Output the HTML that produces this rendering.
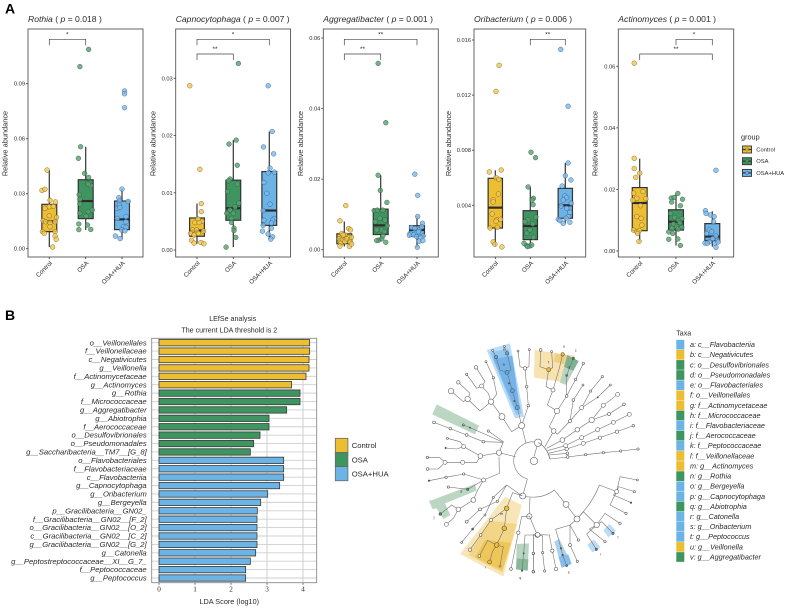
<!DOCTYPE html>
<html lang="en">
<head>
<meta charset="utf-8">
<title>Relative abundance and LEfSe analysis</title>
<style>
html,body{margin:0;padding:0;background:#fff}
svg{display:block;filter:blur(.35px)}
text{font-family:"Liberation Sans",sans-serif;fill:#2a2a2a}
</style>
</head>
<body>
<svg id="figure" xmlns="http://www.w3.org/2000/svg" width="787" height="609" viewBox="0 0 787 609">
<rect width="787" height="609" fill="#fff"/>
<text x="5" y="13.5" font-size="14" font-weight="bold" style="fill:#000">A</text>
<text x="5" y="320" font-size="14" font-weight="bold" style="fill:#000">B</text>
<g id="boxplots"></g>
<g id="group-legend"></g>
<g id="lefse"></g>
<g id="lefse-legend"></g>
<g id="clade" transform="translate(410 325) scale(.33333)"></g>
<g id="taxa"></g>
</svg>
<script>
// Panel A values (relative abundance) and horizontal jitter (fraction of category step)
const rothiaControl=[.0429,.0318,.0324,.0264,.0255,.022,.0229,.0231,.018,.0171,.0153,.0147,.0142,.0147,.012,.0093,.0084,.0093,.0069,.0051,.0009];
const rothiaControlJitter=[-.06,-.2,-.12,.02,.17,-.12,0,.11,0,.2,-.17,-.1,.02,.16,.02,-.19,-.14,.16,.16,.19,.09];
const rothiaControlBox=[.0009,.0093,.0149,.0242,.0429];
const rothiaOsa=[.1087,.0993,.0556,.0493,.0411,.0389,.0295,.0356,.0344,.0351,.0269,.0244,.0211,.0202,.0193,.0178,.0135,.0129,.0104,.0105];
const rothiaOsaJitter=[.08,-.16,-.14,-.2,-.03,.08,-.18,.05,.14,.07,-.16,-.16,.18,.07,-.16,.01,-.19,.05,-.19,.14];
const rothiaOsaBox=[.0102,.0164,.026,.0376,.0556];
const rothiaHua=[.086,.0845,.0769,.0325,.0278,.026,.0258,.0238,.022,.0225,.0175,.0165,.0147,.012,.0116,.0102,.0069,.0055,.0098];
const rothiaHuaJitter=[.07,.07,.07,0,-.09,-.07,.17,-.07,-.13,-.06,.11,-.13,.11,.04,.11,-.01,-.18,-.05,.08];
const rothiaHuaBox=[.0055,.0104,.016,.026,.0325];
const rothiaTicks=[0,.03,.06,.09];

const capnoControl=[.0287,.0141,.0081,.0067,.0054,.005,.0048,.0048,.0035,.0035,.0033,.0029,.0026,.0029,.0017,.0012,.0013,.0011];
const capnoControlJitter=[-.2,.08,.12,.12,.03,.14,-.06,.06,-.12,-.01,.18,-.18,-.08,.04,-.15,-.08,.11,.19];
const capnoControlBox=[.0011,.0024,.0034,.0056,.0081];
const capnoOsa=[.0326,.0192,.0185,.0148,.0124,.0121,.0115,.0102,.0082,.0075,.007,.0064,.0064,.0055,.0048,.0038,.0034,.0022,.0005];
const capnoOsaJitter=[.14,.08,-.12,.11,-.09,-.13,.11,-.16,.15,.05,-.09,-.18,0,-.05,-.05,.02,.02,.07,-.2];
const capnoOsaBox=[.0005,.0052,.0073,.0122,.0192];
const capnoHua=[.0287,.0207,.018,.0168,.0143,.0135,.0136,.0118,.0099,.008,.0069,.0055,.0052,.0052,.0047,.0043,.0038,.0033,.0028,.0023,.0019];
const capnoHuaJitter=[-.03,.08,-.16,.12,.02,-.03,.14,-.15,-.07,.02,-.17,.13,-.15,.09,.06,-.17,.06,-.19,-.03,.09,.04];
const capnoHuaBox=[.0019,.0043,.0069,.0137,.0207];
const capnoTicks=[0,.01,.02,.03];

const aggreControl=[.0125,.0082,.006,.0056,.0046,.0042,.0035,.0031,.0029,.0027,.0035,.0018,.0023,.0021,.001,.0009,.0016,.0042,.0031];
const aggreControlJitter=[.04,-.12,.12,.17,-.07,.02,.11,-.14,-.05,.16,.2,-.1,.02,.16,-.12,.14,.2,-.03,.06];
const aggreControlBox=[.0009,.0017,.0031,.0045,.008];
const aggreOsa=[.0528,.036,.0211,.0168,.0134,.0111,.0112,.0112,.0089,.0084,.0079,.0056,.0056,.0068,.0051,.0027,.0031,.0021,.0026,.0039];
const aggreOsaJitter=[-.07,.14,-.07,-.01,.17,-.18,-.09,.06,-.02,.12,-.15,-.11,.03,.18,.1,-.06,.03,.14,-.11,.06];
const aggreOsaBox=[.0023,.0043,.0069,.0115,.0211];
const aggreHua=[.0214,.0154,.0094,.0075,.0065,.0063,.006,.0056,.0046,.0042,.0051,.0039,.0041,.0037,.0035,.0024,.0026,.0007];
const aggreHuaJitter=[-.06,.02,.02,.15,.13,-.15,-.06,.06,-.19,-.1,.04,.17,-.21,-.01,.1,.06,.16,.01];
const aggreHuaBox=[.0007,.0038,.0056,.0068,.0094];
const aggreTicks=[0,.02,.04,.06];

const oriControl=[.01416,.01227,.00642,.00656,.00601,.00589,.00482,.00439,.00424,.00337,.00294,.00298,.00284,.00235,.0024,.00134,.00117,.00098];
const oriControlJitter=[.11,.02,-.17,.17,.02,.1,.09,-.06,-.06,-.09,.04,.15,.02,-.15,.06,-.06,-.01,.19];
const oriControlBox=[.00105,.00235,.00383,.00596,.00654];
const oriOsa=[.00785,.00746,.00533,.00451,.00439,.00405,.00315,.00294,.00281,.00265,.00221,.00197,.00168,.00124,.00107,.00105,.00112,.001];
const oriOsaJitter=[.02,.15,-.06,.09,.05,.08,.16,-.07,-.15,.07,-.01,-.1,.09,-.18,-.1,-.01,.04,-.08];
const oriOsaBox=[.00095,.00151,.0025,.00361,.00533];
const oriHua=[.01532,.01119,.00707,.00615,.00584,.0054,.00468,.00456,.00439,.00415,.00395,.00378,.00349,.00318,.00298,.00289,.00306,.00269,.00277];
const oriHuaJitter=[-.13,.08,.08,0,.16,-.09,-.01,.04,-.06,.17,-.12,.04,.13,.09,-.2,-.15,.02,-.06,.13];
const oriHuaBox=[.00269,.00306,.004,.00523,.00707];
const oriTicks=[.004,.008,.012,.016];

const actinoControl=[.061,.0301,.0268,.0253,.0239,.0193,.0188,.0171,.0165,.017,.0147,.0112,.0106,.0084,.0068,.0063,.0066,.0031,.0057];
const actinoControlJitter=[-.15,-.15,-.15,0,-.11,.09,-.17,-.08,-.19,.17,.02,-.08,.04,.06,-.17,-.08,-.01,-.02,-.06];
const actinoControlBox=[.003,.0066,.0156,.0206,.03];
const actinoOsa=[.0187,.0172,.0174,.0168,.0159,.0147,.0122,.0109,.0105,.0099,.0088,.0092,.0079,.0077,.0074,.0071,.0062,.0057,.0039,.0038,.0018];
const actinoOsaJitter=[.05,-.13,-.05,.18,-.12,.12,-.15,-.04,.16,.07,-.07,.11,.02,.16,-.11,.06,-.2,-.09,.05,-.2,.12];
const actinoOsaBox=[.0018,.0068,.0095,.0134,.0187];
const actinoHua=[.0262,.0131,.0122,.0117,.0112,.0095,.0068,.0063,.0057,.0049,.004,.0034,.003,.0026,.0025,.0025,.0029,.0012];
const actinoHuaJitter=[.1,-.19,-.17,-.05,.05,.03,-.08,-.02,-.16,.1,.01,.14,-.08,-.2,-.14,.07,.16,.1];
const actinoHuaBox=[.0014,.0034,.0047,.0089,.0129];
const actinoTicks=[0,.02,.04,.06];

const groupNames=["Control","OSA","OSA+HUA"];
const groupColors={"Control":"#EDBE32","OSA":"#3F9560","OSA+HUA":"#6CB3E6"};
const pointFill={"Control":"rgba(240,200,85,.82)","OSA":"rgba(90,160,115,.82)","OSA+HUA":"rgba(125,185,235,.82)"};
const pointEdge={"Control":"rgba(110,85,20,.8)","OSA":"rgba(40,85,55,.8)","OSA+HUA":"rgba(45,85,125,.8)"};

// Panel B values
const lefseLabels=["o__Veillonellales","f__Veillonellaceae","c__Negativicutes","g__Veillonella","f__Actinomycetaceae","g__Actinomyces","g__Rothia","f__Micrococcaceae","g__Aggregatibacter","g__Abiotrophia","f__Aerococcaceae","o__Desulfovibrionales","o__Pseudomonadales","g__Saccharibacteria__TM7__[G_8]","o__Flavobacteriales","f__Flavobacteriaceae","c__Flavobacteriia","g__Capnocytophaga","g__Oribacterium","g__Bergeyella","p__Gracilibacteria__GN02_","f__Gracilibacteria__GN02__[F_2]","o__Gracilibacteria__GN02__[O_2]","c__Gracilibacteria__GN02__[C_2]","g__Gracilibacteria__GN02__[G_2]","g__Catonella","g__Peptostreptococcaceae__XI__G_7_","f__Peptococcaceae","g__Peptococcus"];
const lefseScores=[4.185,4.185,4.167,4.167,4.083,3.685,3.917,3.917,3.546,3.056,3.056,2.806,2.63,2.537,3.463,3.463,3.463,3.352,3.019,2.824,2.731,2.722,2.722,2.722,2.722,2.685,2.537,2.407,2.407];
const lefseGroups=["Control","Control","Control","Control","Control","Control","OSA","OSA","OSA","OSA","OSA","OSA","OSA","OSA","OSA+HUA","OSA+HUA","OSA+HUA","OSA+HUA","OSA+HUA","OSA+HUA","OSA+HUA","OSA+HUA","OSA+HUA","OSA+HUA","OSA+HUA","OSA+HUA","OSA+HUA","OSA+HUA","OSA+HUA"];
const lefseTicks=[0,1,2,3,4];
const taxaLabels=["a: c__Flavobacteriia","b: c__Negativicutes","c: o__Desulfovibrionales","d: o__Pseudomonadales","e: o__Flavobacteriales","f: o__Veillonellales","g: f__Actinomycetaceae","h: f__Micrococcaceae","i: f__Flavobacteriaceae","j: f__Aerococcaceae","k: f__Peptococcaceae","l: f__Veillonellaceae","m: g__Actinomyces","n: g__Rothia","o: g__Bergeyella","p: g__Capnocytophaga","q: g__Abiotrophia","r: g__Catonella","s: g__Oribacterium","t: g__Peptococcus","u: g__Veillonella","v: g__Aggregatibacter"];
const taxaGroups=["OSA+HUA","Control","OSA","OSA","OSA+HUA","Control","Control","OSA","OSA+HUA","OSA","OSA+HUA","Control","Control","OSA","OSA+HUA","OSA+HUA","OSA","OSA+HUA","OSA+HUA","OSA+HUA","Control","OSA"];

const NS="http://www.w3.org/2000/svg";
function make(parent,tag,attrs,text){
  const e=document.createElementNS(NS,tag);
  for(const k in attrs)e.setAttribute(k,attrs[k]);
  if(text!==undefined)e.textContent=text;
  parent.appendChild(e);
  return e;
}

const panels=[
 {id:"rothia",taxon:"Rothia",p:"0.018",left:28,right:143,xs:[49.3,85.7,122],y0:248.7,yTop:83.7,vTop:.09,v0:0,yTitle:5.5,decimals:2,ticks:rothiaTicks,
  series:[[rothiaControl,rothiaControlJitter,rothiaControlBox],[rothiaOsa,rothiaOsaJitter,rothiaOsaBox],[rothiaHua,rothiaHuaJitter,rothiaHuaBox]],
  brackets:[[0,1,39.3,"*",67.3]]},
 {id:"capnocytophaga",taxon:"Capnocytophaga",p:"0.007",left:175.7,right:290.5,xs:[197,233.3,269.3],y0:250,yTop:78.3,vTop:.03,v0:0,yTitle:153.5,decimals:2,ticks:capnoTicks,
  series:[[capnoControl,capnoControlJitter,capnoControlBox],[capnoOsa,capnoOsaJitter,capnoOsaBox],[capnoHua,capnoHuaJitter,capnoHuaBox]],
  brackets:[[0,2,39.3,"*",233],[0,1,54,"**",215]]},
 {id:"aggregatibacter",taxon:"Aggregatibacter",p:"0.001",left:323.3,right:438.3,xs:[344.3,380.7,417],y0:249.7,yTop:38,vTop:.06,v0:0,yTitle:301,decimals:2,ticks:aggreTicks,
  series:[[aggreControl,aggreControlJitter,aggreControlBox],[aggreOsa,aggreOsaJitter,aggreOsaBox],[aggreHua,aggreHuaJitter,aggreHuaBox]],
  brackets:[[0,2,39.3,"**",380.7],[0,1,54,"**",362.5]]},
 {id:"oribacterium",taxon:"Oribacterium",p:"0.006",left:474,right:585.7,xs:[495.3,530.3,565.3],y0:205.3,yTop:40,vTop:.016,v0:.004,yTitle:449,decimals:3,ticks:oriTicks,
  series:[[oriControl,oriControlJitter,oriControlBox],[oriOsa,oriOsaJitter,oriOsaBox],[oriHua,oriHuaJitter,oriHuaBox]],
  brackets:[[1,2,39.3,"**",547.7]]},
 {id:"actinomyces",taxon:"Actinomyces",p:"0.001",left:618.3,right:733.7,xs:[639.7,676,712.3],y0:251,yTop:66.3,vTop:.06,v0:0,yTitle:595.7,decimals:2,ticks:actinoTicks,
  series:[[actinoControl,actinoControlJitter,actinoControlBox],[actinoOsa,actinoOsaJitter,actinoOsaBox],[actinoHua,actinoHuaJitter,actinoHuaBox]],
  brackets:[[1,2,39.3,"*",694],[0,2,54,"**",676]]}
];
const frameTop=29,frameBottom=257;

function drawPanel(P){
  const root=document.getElementById("boxplots");
  const g=make(root,"g",{});
  
  
  const yScale=v=>P.y0+(v-P.v0)*(P.yTop-P.y0)/(P.vTop-P.v0);
  const step=(P.xs[2]-P.xs[0])/2;
  const halfBox=step*.205;

  const title=make(g,"text",{x:P.left,y:21.8,"font-size":8.6});
  
  
  make(title,"tspan",{"font-style":"italic"},P.taxon);
  make(title,"tspan",{}," ( ");
  make(title,"tspan",{"font-style":"italic"},"p");
  make(title,"tspan",{}," = "+P.p+" )");

  const yTitle=make(g,"text",{transform:"translate("+P.yTitle+" 143.5) rotate(-90)","text-anchor":"middle","dominant-baseline":"middle","font-size":7.4},"Relative abundance");
  
  

  P.ticks.forEach(t=>{
    const y=yScale(t);
    const tick=make(g,"line",{x1:P.left-2,x2:P.left,y1:y,y2:y,stroke:"#333","stroke-width":.8});
    
    
    const lab=make(g,"text",{x:P.left-3,y:y+2,"text-anchor":"end","font-size":5.7},t.toFixed(P.decimals));
    
    
  });

  P.series.forEach((s,i)=>{
    const name=groupNames[i],cx=P.xs[i],box=s[2];
    const whisker=make(g,"line",{x1:cx,x2:cx,y1:yScale(box[0]),y2:yScale(box[4]),stroke:"#333","stroke-width":1.2});
    
    
    const rect=make(g,"rect",{x:cx-halfBox,width:2*halfBox,y:yScale(box[3]),height:yScale(box[1])-yScale(box[3]),fill:groupColors[name],stroke:"#333","stroke-width":1.2});
    
    
    const med=make(g,"line",{x1:cx-halfBox,x2:cx+halfBox,y1:yScale(box[2]),y2:yScale(box[2]),stroke:"#2c2c2c","stroke-width":2.2});
    
    
    s[0].forEach((v,k)=>{
      const c=make(g,"circle",{cx:cx+s[1][k]*step,cy:yScale(v),r:2.4,fill:pointFill[name],stroke:pointEdge[name],"stroke-width":.5});
      
      
    });
  });

  const frame=make(g,"rect",{x:P.left,y:frameTop,width:P.right-P.left,height:frameBottom-frameTop,fill:"none",stroke:"#555","stroke-width":.9});
  
  

  P.xs.forEach((x,i)=>{
    const t=make(g,"line",{x1:x,x2:x,y1:frameBottom,y2:frameBottom+2,stroke:"#333","stroke-width":.8});
    
    
    const l=make(g,"text",{transform:"translate("+(x+3.2)+" "+(frameBottom+6.5)+") rotate(-45)","text-anchor":"end","font-size":6.2},groupNames[i]);
    
    
  });

  P.brackets.forEach(b=>{
    const x1=P.xs[b[0]],x2=P.xs[b[1]],y=b[2];
    const br=make(g,"path",{d:"M"+x1+" "+(y+6)+"V"+y+"H"+x2+"V"+(y+6),fill:"none",stroke:"#444","stroke-width":.7});
    
    
    const st=make(g,"text",{x:b[4],y:y-3,"text-anchor":"middle","font-size":6.5},b[3]);
    
    
  });
}
panels.forEach(drawPanel);

// Panel A legend
(function(){
  const g=document.getElementById("group-legend");
  const t=make(g,"text",{x:741,y:139.5,"font-size":7.3},"group");
  
  
  groupNames.forEach((n,i)=>{
    const y=149.5+i*11.7;
    const key=make(g,"rect",{x:742.5,y:y-3.5,width:9,height:7,fill:groupColors[n],stroke:"#333","stroke-width":.9});
    
    
    const mid=make(g,"line",{x1:742.5,x2:751.5,y1:y,y2:y,stroke:"#333","stroke-width":1.2});
    
    
    const dot=make(g,"circle",{cx:747,cy:y,r:1.6,fill:pointFill[n],stroke:pointEdge[n],"stroke-width":.5});
    
    
    const lab=make(g,"text",{x:756.3,y:y+2,"font-size":5.8},n);
    
    
  });
})();

// Panel B bar chart
(function(){
  const g=document.getElementById("lefse");
  const xScale=v=>159+v*36;
  const rowY=i=>342.7+i*8.404;
  const fl=151.7,fr=316.7,ft=338.3,fb=582.7;
  const t1=make(g,"text",{x:232.7,y:321,"text-anchor":"middle","font-size":7.1},"LEfSe analysis");
  
  
  const t2=make(g,"text",{x:229.3,y:332.7,"text-anchor":"middle","font-size":7.1},"The current LDA threshold is 2");
  
  
  lefseTicks.forEach(v=>{
    const gl=make(g,"line",{x1:xScale(v),x2:xScale(v),y1:ft,y2:fb,stroke:"#c4c4c4","stroke-width":.8});
    
    
    const tk=make(g,"line",{x1:xScale(v),x2:xScale(v),y1:fb,y2:fb+2,stroke:"#333","stroke-width":.7});
    
    
    const lb=make(g,"text",{x:xScale(v),y:fb+9,"text-anchor":"middle","font-size":7.2,style:"font-family:'Liberation Serif',serif"},String(v));
    
    
  });
  lefseLabels.forEach((label,i)=>{
    const y=rowY(i);
    const gl=make(g,"line",{x1:fl,x2:fr,y1:y,y2:y,stroke:"#cfcfcf","stroke-width":.9});
    
    
    const bar=make(g,"rect",{x:xScale(0),y:y-3.2,width:xScale(lefseScores[i])-xScale(0),height:6.4,fill:groupColors[lefseGroups[i]],stroke:"#3a3a3a","stroke-width":.8});
    
    
    const lab=make(g,"text",{x:146.7,y:y+2.6,"text-anchor":"end","font-size":7.65,"font-style":"italic"},label);
    
    
  });
  const fr2=make(g,"rect",{x:fl,y:ft,width:fr-fl,height:fb-ft,fill:"none",stroke:"#8a8a8a","stroke-width":.9});
  
  
  const xt=make(g,"text",{x:229.3,y:604,"text-anchor":"middle","font-size":7.3},"LDA Score (log10)");
  
  

  const lg=document.getElementById("lefse-legend");
  groupNames.forEach((n,i)=>{
    const y=438.3+i*14.15;
    const r=make(lg,"rect",{x:335.3,y:y,width:12.6,height:14.15,fill:groupColors[n],stroke:"#6a6a6a","stroke-width":.8});
    
    
    const l=make(lg,"text",{x:351.7,y:y+9.8,"font-size":7.7},n);
    
    
  });

  const tg=document.getElementById("taxa");
  const hd=make(tg,"text",{x:676.3,y:335.5,"font-size":7},"Taxa");
  
  
  taxaLabels.forEach((l,i)=>{
    const y=344.7+i*10.11;
    const r=make(tg,"rect",{x:676.3,y:y-4.85,width:8,height:9.7,fill:groupColors[taxaGroups[i]]});
    
    
    const t=make(tg,"text",{x:690,y:y+2.4,"font-size":7.25,"font-style":"italic"},l);
    
    
  });
})();

// Cladogram: hand-traced tree geometry, grouped by quadrant
const cladeQuadrants=[
 {offset:[0,0],
  wedges:[],
  edges:["M372 395L384 353","M384 353A56 56 0 1 0 352 462","M352 462L338 513","M267 383L316 395","M267 383L211 393","M211 393L161 365","M161 365L150 350L112 340","M161 365L140 372L107 369","M211 393L200 412L158 412L105 412","M105 412L90 398L52 397","M105 412L85 432L53 432","M267 395L268 445L221 465","M338 513Q395 525 433 495L468 538","M468 538L501 582","M360 517L358 574","M501 582Q550 530 568 480L620 500","M384 353Q410 365 420 402"],
  nodes:[[372,408,11,"o"],[384,353,11,"o"],[211,393,7,"o"],[161,365,6,"o"],[112,340,3,"o"],[107,369,2.2,"d"],[158,412,6,"o"],[105,412,6,"o"],[52,397,3.5,"o"],[53,432,4,"o"],[338,513,9,"o"],[358,574,8,"o"]]},
 {offset:[45,30],
  wedges:[["M35 208L162 272L150 298L22 238Z","#bcd6c4"],["M185 45L255 25L297 245L270 250Z","#bcdcf5"],["M195 52L250 42L290 235L273 240Z","#94c6ee"],["M205 72L262 62L284 220L272 226Z","#73b3e8"]],
  edges:["M290 272L303 325","M290 272L260 290L231 245","M290 272L277 218L262 167L246 112","M246 112L225 105L213 66L203 46","M246 112L258 105L246 55L238 34","M290 272L310 212L305 155L300 100","M300 100L285 95L279 48","M300 100L312 95L313 44","M231 245L198 200","M198 200L165 228L128 192","M128 192L115 200L78 168","M128 192L135 175L100 142","M198 200L190 175L170 153","M170 153L155 160L125 118","M170 153L180 140L153 97","M198 200L215 178L205 128L183 80","M222 353L235 320L190 288","M235 322L175 320L125 300L76 281L27 262","M235 322L135 278L115 270"],
  nodes:[[231,245,9,"o"],[198,200,8,"o"],[128,192,8,"o"],[78,168,8,"o"],[290,272,9,"o"],[222,353,8,"o"],[100,142,5,"o"],[170,153,6,"o"],[125,118,3.5,"o"],[153,97,5,"o"],[205,128,3.5,"o"],[183,80,3,"o"],[190,288,3.5,"o"],[135,278,2,"d"],[115,270,3,"o"],[175,320,4,"o"],[125,300,4,"o"],[76,281,4,"o"],[27,262,4,"o"],[310,212,4,"o"],[305,155,4,"o"],[300,100,5,"o"],[279,48,3,"o"],[313,44,3,"o"],[277,218,6,"b"],[262,167,6,"b"],[246,112,6,"b"],[213,66,5,"b"],[246,55,5,"b"],[203,46,3,"o"],[238,34,3,"o"],[252,145,2,"d"],[268,198,2,"d"]]},
 {offset:[360,30],
  wedges:[["M14 45L135 62L100 142L12 128Z","#f7e3b0"],["M75 55L112 62L102 88L72 80Z","#efcf7e"],["M112 60L146 78L130 108L102 96Z","#7eb192"],["M102 96L130 108L108 150L90 143Z","#b7d5c2"]],
  edges:["M24 323Q50 335 60 372","M45 335L71 288","M71 288L58 275L81 228","M81 228L52 210L69 165","M69 165L48 155L56 104","M56 104L30 95L32 45","M56 104L68 98L65 50","M69 165L88 100L98 58","M81 228L110 183L110 121L130 70","M110 183L137 133L160 85","M71 288L82 298L120 258L155 218L182 168L217 125","M155 218L203 187L241 150","M120 258L130 195L159 150","M50 340L97 315L142 284L185 255L220 211L263 178","M185 255L237 237L282 208","M52 347L107 332L155 308L203 284L250 262L298 238","M55 355L110 342L160 325L210 308L261 290L310 272","M60 372L113 366L167 359L220 353L272 348L324 342","M57 360L112 355"],
  nodes:[[71,288,7,"o"],[81,228,8,"o"],[69,165,6,"o"],[56,104,6,"y"],[32,45,4,"o"],[65,50,3,"o"],[98,58,5,"y"],[110,183,4,"o"],[110,121,3,"g"],[130,70,3.5,"g"],[137,133,3.5,"o"],[160,85,3.5,"o"],[120,258,4.5,"o"],[155,218,6,"o"],[182,168,3.5,"o"],[217,125,3.5,"o"],[203,187,2,"d"],[241,150,3,"o"],[130,195,4,"o"],[159,150,3,"o"],[97,315,7,"o"],[142,284,7,"o"],[185,255,8,"o"],[220,211,6,"o"],[263,178,6,"o"],[237,237,4.5,"o"],[282,208,4,"o"],[107,332,6,"o"],[155,308,6,"o"],[203,284,6,"o"],[250,262,6,"o"],[298,238,6,"o"],[110,342,5,"o"],[160,325,6,"o"],[210,308,5,"o"],[261,290,5,"o"],[310,272,4,"o"],[113,366,4,"o"],[167,359,3.5,"o"],[220,353,3.5,"o"],[272,348,3.5,"o"],[324,342,3.5,"o"],[112,355,4,"o"]]},
 {offset:[45,405],
  wedges:[["M22 120L150 72L155 92L60 130L76 165L55 177L35 145L22 147L12 122Z","#bcd6c4"],["M240 110L290 135L235 350L105 282Z","#f9e6b8"],["M195 182L276 192L232 338L130 285Z","#f3d588"],["M180 240L258 248L232 332L150 292Z","#efc758"],["M275 252L312 250L308 332L273 328Z","#b7d5c2"],["M276 295L310 298L308 332L273 328Z","#88b79a"]],
  edges:["M176 60L116 42L63 52L12 62","M176 60L128 88L70 81","M176 60L158 90L145 120","M145 120L100 148","M100 148L80 135L46 162","M100 148L85 175L64 193","M292 108L245 75L217 124L165 148L125 185","M245 75L205 112L180 165L143 207L110 247","M292 108L263 98L245 145","M245 145L238 205L215 255","M245 145L198 180L167 225L135 269","M215 255L188 241L163 288","M215 255L202 275L194 306","M215 255L235 260L225 318","M313 168L290 170L280 218L258 327","M313 168L337 225","M337 225L300 225L296 280L291 332","M337 225L325 225L325 280L325 335"],
  nodes:[[176,60,6,"o"],[116,42,3.5,"o"],[63,52,3.5,"o"],[12,62,2.5,"d"],[128,88,3.5,"g"],[70,81,3.5,"o"],[145,120,7,"o"],[100,148,7,"o"],[46,162,4,"g"],[64,193,6,"o"],[217,124,3.5,"o"],[165,148,4.5,"o"],[125,185,4.5,"o"],[205,112,3,"o"],[180,165,3,"o"],[143,207,3,"d"],[110,247,3,"o"],[245,145,7,"y"],[238,205,7,"y"],[215,255,7,"y"],[198,180,5,"o"],[167,225,4,"o"],[135,269,5,"o"],[163,288,4,"o"],[194,306,6,"y"],[225,318,3,"o"],[258,327,4,"o"],[280,218,5,"o"],[337,225,7,"o"],[296,280,2,"d"],[291,332,2.5,"d"],[325,280,3.5,"o"],[325,335,4,"o"]]},
 {offset:[360,405],
  wedges:[["M73 245L88 237L125 312L95 323Z","#a9d1f0"],["M85 290L115 283L125 312L95 323Z","#86bdea"],["M172 255L192 238L212 263L187 277Z","#bcdcf5"],["M220 210L238 192L258 212L235 232Z","#bcdcf5"]],
  edges:["M23 224L38 228L38 280L44 333","M23 224L58 225L67 272L78 327","M23 224L10 224L10 280L10 335","M141 177L120 195L77 208L93 265L98 285L110 317","M120 195L120 255L142 304","M120 195L145 240","M141 177L160 155L200 195","M200 195L170 222L199 268","M200 195L178 207L225 245","M200 195L225 160L270 190","M200 195L215 185L249 220","M260 95L270 50L322 60","M260 95L266 80L313 95","M260 95L240 135L288 160","M260 95L250 105L303 128"],
  nodes:[[23,224,7,"o"],[38,278,3.5,"o"],[44,333,3.5,"o"],[67,272,5,"o"],[78,327,5,"o"],[10,280,3.5,"o"],[10,335,3.5,"o"],[141,177,9,"o"],[108,133,9,"o"],[93,265,2.5,"d"],[98,285,2.5,"d"],[110,317,3,"x"],[120,255,4.5,"o"],[142,304,3.5,"o"],[145,240,3.5,"o"],[200,195,8,"o"],[199,268,3.5,"x"],[225,245,3.5,"o"],[270,190,3.5,"o"],[249,220,3.5,"x"],[260,95,6,"o"],[322,60,3,"o"],[313,95,3.5,"o"],[303,128,2.5,"d"],[288,160,3.5,"o"]]}
];
const cladeNodeFill={o:"#fff",d:"#666",b:"#5aa9e0",y:"#efbe2e",g:"#3f9560",x:"#3f8cc4"};
const cladeLetters=[["e",282,76],["a",281,122],["u",462,67],["c",497,79],["f",416,115],["d",476,130],["c",160,301],["d",154,503],["j",72,580],["q",331,762],["s",476,746],["r",572,692],["t",624,640],["l",227,731],["m",275,570]];

(function(){
  const root=document.getElementById("clade");
  cladeQuadrants.forEach(Q=>{
    const wrap=make(root,"g",{transform:"translate("+Q.offset[0]+" "+Q.offset[1]+")"});
    
    
    Q.wedges.forEach(w=>{
      const p=make(wrap,"path",{d:w[0],fill:w[1]});
      
      
    });
  });
  cladeQuadrants.forEach(Q=>{
    const wrap=make(root,"g",{transform:"translate("+Q.offset[0]+" "+Q.offset[1]+")"});
    
    
    Q.edges.forEach(d=>{
      const p=make(wrap,"path",{d:d,fill:"none",stroke:"#6e6e6e","stroke-width":1.7});
      
      
    });
    Q.nodes.forEach(n=>{
      const c=make(wrap,"circle",{cx:n[0],cy:n[1],r:n[2],fill:cladeNodeFill[n[3]],stroke:"#4a4a4a","stroke-width":1.6});
      
      
    });
  });
  cladeLetters.forEach(l=>{
    const t=make(root,"text",{x:l[1],y:l[2],"font-size":11,"text-anchor":"middle"},l[0]);
    
    
  });
})();
</script>
</body>
</html>
